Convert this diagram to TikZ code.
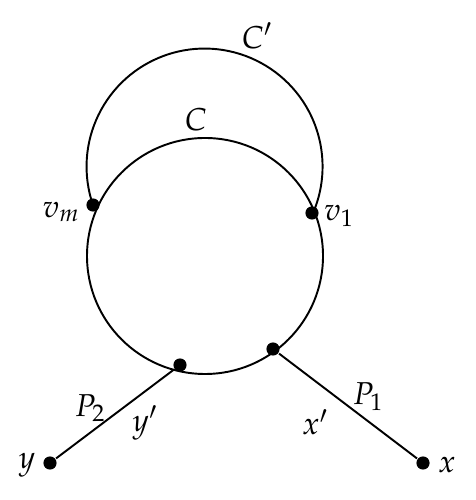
\documentclass[tikz,border=0pt]{standalone}
\usepackage{mathpazo}
\usepackage{amsmath,amssymb}

\begin{document}
\begin{tikzpicture}[line width=1.1pt,
 vert/.style={circle,fill=black,inner sep=0pt,minimum size=7.5pt},
 lab/.style={font=\fontsize{18}{20}\selectfont,inner sep=0pt}]
 \useasboundingbox (0,0) rectangle (9.5,10);
 \coordinate (c) at (4.10,4.88);
 \node[vert] (vm) at (1.86,5.90) {};
 \node[vert] (v1) at (6.24,5.74) {};
 \node[vert] (yp) at (3.60,2.70) {};
 \node[vert] (xp) at (5.46,3.02) {};
 \node[vert] (y) at (1.00,0.74) {};
 \node[vert] (x) at (8.46,0.74) {};
 \draw (c) circle (2.36);
 \draw (vm.center) arc[start angle=199,end angle=-23,radius=2.36];
 \draw (yp)--(y);
 \draw (xp)--(x);
 \node[lab] (Cp) at (5.14,9.28) {\(C'\)};
 \node[lab] (Cl) at (3.92,7.60) {\(C\)};
 \node[lab] (vml) at (1.22,5.76) {\(v_m\)};
 \node[lab] (v1l) at (6.78,5.68) {\(v_1\)};
 \node[lab] (P2) at (1.80,1.84) {\(P_2\)};
 \node[lab] (ypl) at (2.90,1.54) {\(y'\)};
 \node[lab] (P1) at (7.36,2.06) {\(P_1\)};
 \node[lab] (xpl) at (6.30,1.56) {\(x'\)};
 \node[lab] (yl) at (0.54,0.70) {\(y\)};
 \node[lab] (xl) at (8.94,0.70) {\(x\)};
\end{tikzpicture}
\end{document}
